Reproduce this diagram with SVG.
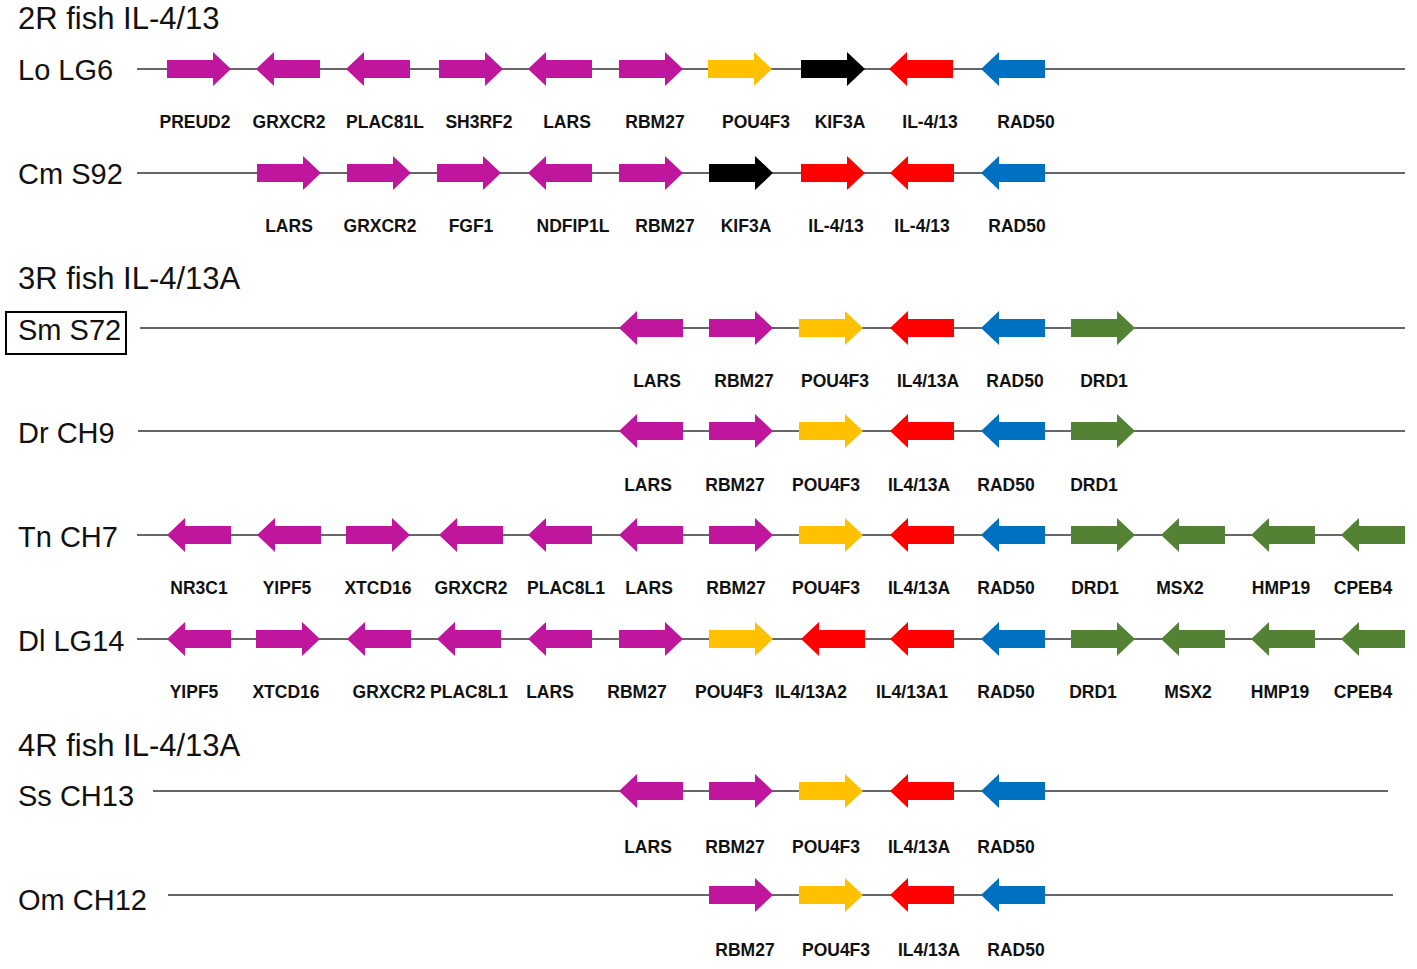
<svg xmlns="http://www.w3.org/2000/svg" xmlns:xlink="http://www.w3.org/1999/xlink" width="1417" height="969" viewBox="0 0 1417 969">
<style>
.t{font-family:"Liberation Sans",Arial,sans-serif;font-size:29px;fill:#111}
.h{font-family:"Liberation Sans",Arial,sans-serif;font-size:31px;fill:#111}
.g{font-family:"Liberation Sans",Arial,sans-serif;font-size:17.5px;font-weight:bold;fill:#111;text-anchor:middle}
.ln{stroke:#333;stroke-width:1.6;fill:none}
.m{fill:#C0169E}.y{fill:#FFC000}.k{fill:#000}.r{fill:#FF0000}.b{fill:#0070C0}.gr{fill:#548235}
</style>
<defs>
<path id="R" d="M0,-9H46V-17L64,0L46,17V9H0Z"/>
<path id="L" d="M64,-9H18V-17L0,0L18,17V9H64Z"/>
</defs>
<rect width="1417" height="969" fill="#fff"/>
<text class="h" x="18" y="29">2R fish IL-4/13</text>
<text class="h" x="18" y="289">3R fish IL-4/13A</text>
<text class="h" x="18" y="756">4R fish IL-4/13A</text>
<g id="connectors">
<line class="ln" x1="137" y1="69" x2="1405" y2="69"/>
<line class="ln" x1="137" y1="173" x2="1405" y2="173"/>
<line class="ln" x1="140" y1="328" x2="1405" y2="328"/>
<line class="ln" x1="138" y1="431" x2="1405" y2="431"/>
<line class="ln" x1="137" y1="535" x2="1405" y2="535"/>
<line class="ln" x1="137" y1="639" x2="1405" y2="639"/>
<line class="ln" x1="153" y1="791" x2="1388" y2="791"/>
<line class="ln" x1="168" y1="895" x2="1393" y2="895"/>
</g>
<g id="row-LoLG6">
<text class="t" x="18" y="80">Lo LG6</text>
<use href="#R" x="167" y="69" class="m"/><use href="#L" x="256" y="69" class="m"/><use href="#L" x="346" y="69" class="m"/><use href="#R" x="439" y="69" class="m"/><use href="#L" x="528" y="69" class="m"/><use href="#R" x="619" y="69" class="m"/><use href="#R" x="708" y="69" class="y"/><use href="#R" x="801" y="69" class="k"/><use href="#L" x="889" y="69" class="r"/><use href="#L" x="981" y="69" class="b"/>
<text class="g" x="195" y="128">PREUD2</text><text class="g" x="289" y="128">GRXCR2</text><text class="g" x="385" y="128">PLAC81L</text><text class="g" x="479" y="128">SH3RF2</text><text class="g" x="567" y="128">LARS</text><text class="g" x="655" y="128">RBM27</text><text class="g" x="756" y="128">POU4F3</text><text class="g" x="840" y="128">KIF3A</text><text class="g" x="930" y="128">IL-4/13</text><text class="g" x="1026" y="128">RAD50</text>
</g>
<g id="row-CmS92">
<text class="t" x="18" y="184">Cm S92</text>
<use href="#R" x="257" y="173" class="m"/><use href="#R" x="347" y="173" class="m"/><use href="#R" x="437" y="173" class="m"/><use href="#L" x="528" y="173" class="m"/><use href="#R" x="619" y="173" class="m"/><use href="#R" x="709" y="173" class="k"/><use href="#R" x="801" y="173" class="r"/><use href="#L" x="890" y="173" class="r"/><use href="#L" x="981" y="173" class="b"/>
<text class="g" x="289" y="232">LARS</text><text class="g" x="380" y="232">GRXCR2</text><text class="g" x="471" y="232">FGF1</text><text class="g" x="573" y="232">NDFIP1L</text><text class="g" x="665" y="232">RBM27</text><text class="g" x="746" y="232">KIF3A</text><text class="g" x="836" y="232">IL-4/13</text><text class="g" x="922" y="232">IL-4/13</text><text class="g" x="1017" y="232">RAD50</text>
</g>
<g id="row-SmS72">
<rect x="6" y="312" width="120" height="42" fill="none" stroke="#000" stroke-width="2"/>
<text class="t" x="18" y="340">Sm S72</text>
<use href="#L" x="619" y="328" class="m"/><use href="#R" x="709" y="328" class="m"/><use href="#R" x="799" y="328" class="y"/><use href="#L" x="890" y="328" class="r"/><use href="#L" x="981" y="328" class="b"/><use href="#R" x="1071" y="328" class="gr"/>
<text class="g" x="657" y="387">LARS</text><text class="g" x="744" y="387">RBM27</text><text class="g" x="835" y="387">POU4F3</text><text class="g" x="928" y="387">IL4/13A</text><text class="g" x="1015" y="387">RAD50</text><text class="g" x="1104" y="387">DRD1</text>
</g>
<g id="row-DrCH9">
<text class="t" x="18" y="443">Dr CH9</text>
<use href="#L" x="619" y="431" class="m"/><use href="#R" x="709" y="431" class="m"/><use href="#R" x="799" y="431" class="y"/><use href="#L" x="890" y="431" class="r"/><use href="#L" x="981" y="431" class="b"/><use href="#R" x="1071" y="431" class="gr"/>
<text class="g" x="648" y="491">LARS</text><text class="g" x="735" y="491">RBM27</text><text class="g" x="826" y="491">POU4F3</text><text class="g" x="919" y="491">IL4/13A</text><text class="g" x="1006" y="491">RAD50</text><text class="g" x="1094" y="491">DRD1</text>
</g>
<g id="row-TnCH7">
<text class="t" x="18" y="547">Tn CH7</text>
<use href="#L" x="167" y="535" class="m"/><use href="#L" x="257" y="535" class="m"/><use href="#R" x="346" y="535" class="m"/><use href="#L" x="439" y="535" class="m"/><use href="#L" x="528" y="535" class="m"/><use href="#L" x="619" y="535" class="m"/><use href="#R" x="709" y="535" class="m"/><use href="#R" x="799" y="535" class="y"/><use href="#L" x="890" y="535" class="r"/><use href="#L" x="981" y="535" class="b"/><use href="#R" x="1071" y="535" class="gr"/><use href="#L" x="1161" y="535" class="gr"/><use href="#L" x="1251" y="535" class="gr"/><use href="#L" x="1341" y="535" class="gr"/>
<text class="g" x="199" y="594">NR3C1</text><text class="g" x="287" y="594">YIPF5</text><text class="g" x="378" y="594">XTCD16</text><text class="g" x="471" y="594">GRXCR2</text><text class="g" x="566" y="594">PLAC8L1</text><text class="g" x="649" y="594">LARS</text><text class="g" x="736" y="594">RBM27</text><text class="g" x="826" y="594">POU4F3</text><text class="g" x="919" y="594">IL4/13A</text><text class="g" x="1006" y="594">RAD50</text><text class="g" x="1095" y="594">DRD1</text><text class="g" x="1180" y="594">MSX2</text><text class="g" x="1281" y="594">HMP19</text><text class="g" x="1363" y="594">CPEB4</text>
</g>
<g id="row-DlLG14">
<text class="t" x="18" y="651">Dl LG14</text>
<use href="#L" x="167" y="639" class="m"/><use href="#R" x="256" y="639" class="m"/><use href="#L" x="347" y="639" class="m"/><use href="#L" x="437" y="639" class="m"/><use href="#L" x="528" y="639" class="m"/><use href="#R" x="619" y="639" class="m"/><use href="#R" x="709" y="639" class="y"/><use href="#L" x="801" y="639" class="r"/><use href="#L" x="890" y="639" class="r"/><use href="#L" x="981" y="639" class="b"/><use href="#R" x="1071" y="639" class="gr"/><use href="#L" x="1161" y="639" class="gr"/><use href="#L" x="1251" y="639" class="gr"/><use href="#L" x="1341" y="639" class="gr"/>
<text class="g" x="194" y="698">YIPF5</text><text class="g" x="286" y="698">XTCD16</text><text class="g" x="389" y="698">GRXCR2</text><text class="g" x="469" y="698">PLAC8L1</text><text class="g" x="550" y="698">LARS</text><text class="g" x="637" y="698">RBM27</text><text class="g" x="729" y="698">POU4F3</text><text class="g" x="811" y="698">IL4/13A2</text><text class="g" x="912" y="698">IL4/13A1</text><text class="g" x="1006" y="698">RAD50</text><text class="g" x="1093" y="698">DRD1</text><text class="g" x="1188" y="698">MSX2</text><text class="g" x="1280" y="698">HMP19</text><text class="g" x="1363" y="698">CPEB4</text>
</g>
<g id="row-SsCH13">
<text class="t" x="18" y="806">Ss CH13</text>
<use href="#L" x="619" y="791" class="m"/><use href="#R" x="709" y="791" class="m"/><use href="#R" x="799" y="791" class="y"/><use href="#L" x="890" y="791" class="r"/><use href="#L" x="981" y="791" class="b"/>
<text class="g" x="648" y="853">LARS</text><text class="g" x="735" y="853">RBM27</text><text class="g" x="826" y="853">POU4F3</text><text class="g" x="919" y="853">IL4/13A</text><text class="g" x="1006" y="853">RAD50</text>
</g>
<g id="row-OmCH12">
<text class="t" x="18" y="910">Om CH12</text>
<use href="#R" x="709" y="895" class="m"/><use href="#R" x="799" y="895" class="y"/><use href="#L" x="890" y="895" class="r"/><use href="#L" x="981" y="895" class="b"/>
<text class="g" x="745" y="956">RBM27</text><text class="g" x="836" y="956">POU4F3</text><text class="g" x="929" y="956">IL4/13A</text><text class="g" x="1016" y="956">RAD50</text>
</g>
</svg>
